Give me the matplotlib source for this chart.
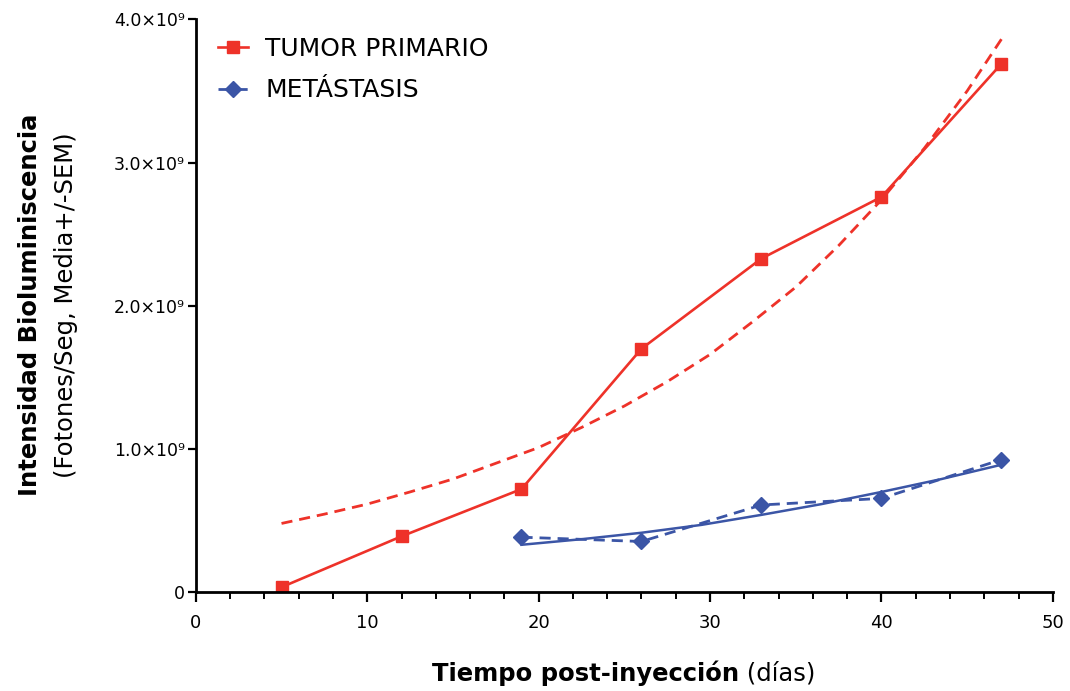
import matplotlib
matplotlib.use("Agg")
import matplotlib.pyplot as plt
from matplotlib.ticker import MultipleLocator

# data (values in units of 1e9)
dias_tumor = [5, 12, 19, 26, 33, 40, 47]
tumor = [0.035, 0.39, 0.72, 1.70, 2.33, 2.76, 3.69]

dias_meta = [19, 26, 33, 40, 47]
meta = [0.384, 0.354, 0.609, 0.655, 0.926]

# fitted curves
fit_tumor_x = [5, 7.5, 10, 12.5, 15, 17.5, 20, 22.5, 25, 27.5, 30, 32.5, 35, 37.5, 40, 42.5, 45, 47.1]
fit_tumor_y = [0.48, 0.545, 0.615, 0.70, 0.79, 0.90, 1.01, 1.15, 1.30, 1.47, 1.66, 1.89, 2.13, 2.42, 2.74, 3.10, 3.50, 3.88]
fit_meta_x = [19, 22.5, 26, 29.5, 33, 36.5, 40, 43.5, 47]
fit_meta_y = [0.331, 0.37, 0.415, 0.47, 0.54, 0.615, 0.70, 0.79, 0.89]

yticks = [0, 1, 2, 3, 4]
ylabels = ["0", "1.0×10⁹", "2.0×10⁹", "3.0×10⁹", "4.0×10⁹"]

red = "#EE3229"
blue = "#3B55A6"

fig = plt.figure(figsize=(10.7, 6.91), dpi=100)
ax = fig.add_axes([0.183, 0.143, 0.801, 0.829])

ax.plot(fit_tumor_x, fit_tumor_y, color=red, lw=2, ls=(0, (4, 2.5)))
ax.plot(fit_meta_x, fit_meta_y, color=blue, lw=1.8)
ax.plot(dias_tumor, tumor, color=red, lw=1.9, marker="s", ms=9,
        label="TUMOR PRIMARIO")
ax.plot(dias_meta, meta, color=blue, lw=2, ls=(0, (4, 2.5)), marker="D",
        ms=8.5, label="METÁSTASIS")

ax.set_xlim(0, 50)
ax.set_ylim(0, 4)
ax.xaxis.set_major_locator(MultipleLocator(10))
ax.xaxis.set_minor_locator(MultipleLocator(2))
ax.set_yticks(yticks)
ax.set_yticklabels(ylabels)

for s in ["top", "right"]:
    ax.spines[s].set_visible(False)
for s in ["left", "bottom"]:
    ax.spines[s].set_linewidth(2)
ax.tick_params(axis="x", which="major", length=7, width=1.6, labelsize=13, pad=9)
ax.tick_params(axis="x", which="minor", length=5, width=1.4)
ax.tick_params(axis="y", which="major", length=6, width=1.6, labelsize=12.5, pad=2)

leg = ax.legend(loc="upper left", bbox_to_anchor=(0.005, 1.0), frameon=False,
                fontsize=18, handlelength=1.2, handletextpad=0.7,
                labelspacing=0.7, borderaxespad=0.3)

# x label: bold part + normal part
t1 = fig.text(0.404, 0.026, "Tiempo post-inyección", fontsize=17.5,
              fontweight="bold", va="center", ha="left")
ax.annotate(" (días)", xy=(1, 0.5), xycoords=t1, va="center", ha="left",
            fontsize=17.5)

# y label: two lines
fig.text(0.028, 0.559, "Intensidad Bioluminiscencia", fontsize=17.5,
         fontweight="bold", rotation=90, va="center", ha="center")
fig.text(0.062, 0.559, "(Fotones/Seg, Media+/-SEM)", fontsize=17.5,
         rotation=90, va="center", ha="center")

fig.savefig("out.png", dpi=100)
